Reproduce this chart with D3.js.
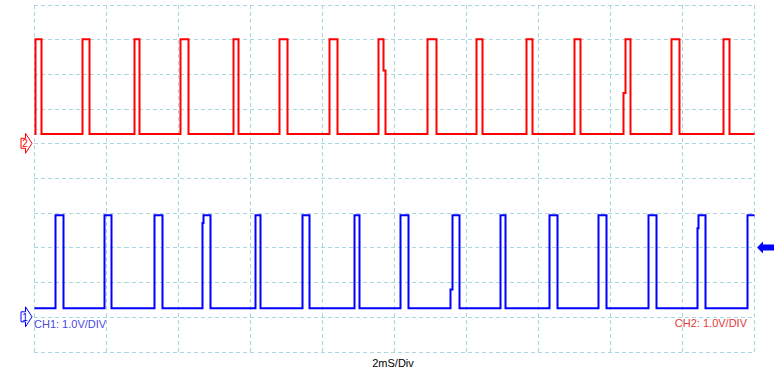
<!DOCTYPE html>
<html>
<head>
<meta charset="utf-8">
<script src="https://cdn.jsdelivr.net/npm/d3@7"></script>
<style>
  body { margin: 0; background: #fff; }
  svg { display: block; font-family: "Liberation Sans", Arial, sans-serif; }
</style>
</head>
<body>
<svg id="scope" width="784" height="377"></svg>
<script>
// Time of each edge in ms (2 ms/div, 10 div)
const ch2Rise = [0.03, 1.36, 2.78, 4.08, 5.53, 6.83, 8.22, 9.56, 10.94, 12.28, 13.67, 15.00, 16.37, 17.72, 19.14];
const ch2Fall = [0.22, 1.53, 2.94, 4.28, 5.69, 7.03, 8.42, 9.72, 11.17, 12.47, 13.86, 15.19, 16.58, 17.92, 19.31];
const ch1Rise = [0.61, 1.97, 3.36, 4.68, 6.14, 7.47, 8.89, 10.19, 11.58, 12.97, 14.33, 15.69, 17.08, 18.42, 19.83];
const ch1Fall = [0.81, 2.14, 3.56, 4.89, 6.28, 7.64, 9.03, 10.39, 11.81, 13.11, 14.53, 15.89, 17.28, 18.64, null];

// Levels in volts (1.0 V/div)
const ch2Levels = { high: 3.0, low: 0.27 };
const ch1Levels = { high: 2.93, low: 0.25 };

// Edges that pause at an intermediate level for a moment
const ch2Steps = [
  { pulse: 7, edge: 'fall', level: 2.1, until: 9.76 },
  { pulse: 12, edge: 'rise', level: 1.45, until: 16.42 }
];
const ch1Steps = [
  { pulse: 3, edge: 'rise', level: 2.7, until: 4.71 },
  { pulse: 8, edge: 'rise', level: 0.79, until: 11.62 },
  { pulse: 13, edge: 'rise', level: 2.55, until: 18.45 }
];

// Ground offsets in divisions from the bottom, trigger level in volts
const ch2Offset = 6;
const ch1Offset = 1;
const trigLevel = 2.0;

const timeTicks = d3.range(0, 21, 2);
const divTicks = d3.range(0, 11, 1);

const svg = d3.select('#scope');

const x = d3.scaleLinear().domain([0, 20]).range([33.5, 753.5]);
const y = d3.scaleLinear().domain([0, 10]).range([351.5, 4.5]);

const gridColor = '#a9d7df';

// Grid (dashed), built from axes
const gx = svg.append('g')
  .attr('transform', `translate(0, ${y(0)})`)
  .call(d3.axisBottom(x).tickValues(timeTicks).tickSize(-(y(0) - y(10))).tickFormat(''));
const gy = svg.append('g')
  .attr('transform', `translate(${x(0)}, 0)`)
  .call(d3.axisLeft(y).tickValues(divTicks).tickSize(-(x(20) - x(0))).tickFormat(''));
[gx, gy].forEach(g => {
  g.select('.domain').remove();
  g.selectAll('.tick line')
    .attr('stroke', gridColor)
    .attr('stroke-width', 1)
    .attr('stroke-dasharray', '4,3')
    .attr('shape-rendering', 'crispEdges');
});

// Build square-wave points for a channel
const buildTrace = (rise, fall, levels, steps) => {
  const pts = [[0, levels.low]];
  rise.forEach((r, i) => {
    const rs = steps.find(s => s.pulse === i && s.edge === 'rise');
    const fs = steps.find(s => s.pulse === i && s.edge === 'fall');
    pts.push([r, levels.low]);
    if (rs) {
      pts.push([r, rs.level], [rs.until, rs.level], [rs.until, levels.high]);
    } else {
      pts.push([r, levels.high]);
    }
    const f = fall[i];
    if (f === null) {
      pts.push([20, levels.high]);
      return;
    }
    pts.push([f, levels.high]);
    if (fs) {
      pts.push([f, fs.level], [fs.until, fs.level], [fs.until, levels.low]);
    } else {
      pts.push([f, levels.low]);
    }
  });
  if (fall[fall.length - 1] !== null) pts.push([20, levels.low]);
  return pts;
};

const drawTrace = (pts, offset, color) => {
  const line = d3.line()
    .x(d => Math.round(x(d[0])) + 0.5)
    .y(d => y(offset + d[1]));
  svg.append('path')
    .datum(pts)
    .attr('d', line)
    .attr('fill', 'none')
    .attr('stroke', color)
    .attr('stroke-width', 2)
    .attr('stroke-linejoin', 'miter');
};

drawTrace(buildTrace(ch2Rise, ch2Fall, ch2Levels, ch2Steps), ch2Offset, '#ff0000');
drawTrace(buildTrace(ch1Rise, ch1Fall, ch1Levels, ch1Steps), ch1Offset, '#0000ff');

// Ground markers on the left
const drawMarker = (offset, color, label) => {
  const gy0 = y(offset);
  const g = svg.append('g').attr('transform', `translate(0, ${gy0})`);
  g.append('path')
    .attr('d', 'M21,-5 L25.5,-5 L25.5,-10 L32,0 L25.5,10 L25.5,5 L21,5 Z')
    .attr('fill', '#fff')
    .attr('stroke', color)
    .attr('stroke-width', 1);
  g.append('text')
    .attr('x', 25)
    .attr('y', 4)
    .attr('text-anchor', 'middle')
    .attr('font-size', 10)
    .attr('fill', color)
    .text(label);
};
drawMarker(ch2Offset, '#ff0000', '2');
drawMarker(ch1Offset, '#0000ff', '1');

// Trigger level arrow on the right
const ty = y(ch1Offset + trigLevel);
svg.append('path')
  .attr('d', `M757,${ty} L763,${ty - 6} L763,${ty - 3} L774,${ty - 3} L774,${ty + 3} L763,${ty + 3} L763,${ty + 6} Z`)
  .attr('fill', '#0000ff');

// Labels
svg.append('text')
  .attr('x', 34)
  .attr('y', 328)
  .attr('font-size', 11)
  .attr('fill', '#4a4ae0')
  .text('CH1: 1.0V/DIV');
svg.append('text')
  .attr('x', 747)
  .attr('y', 327)
  .attr('text-anchor', 'end')
  .attr('font-size', 11)
  .attr('fill', '#e53a3a')
  .text('CH2: 1.0V/DIV');
svg.append('text')
  .attr('x', 393)
  .attr('y', 367)
  .attr('text-anchor', 'middle')
  .attr('font-size', 11)
  .attr('fill', '#000')
  .text('2mS/Div');
</script>
</body>
</html>
